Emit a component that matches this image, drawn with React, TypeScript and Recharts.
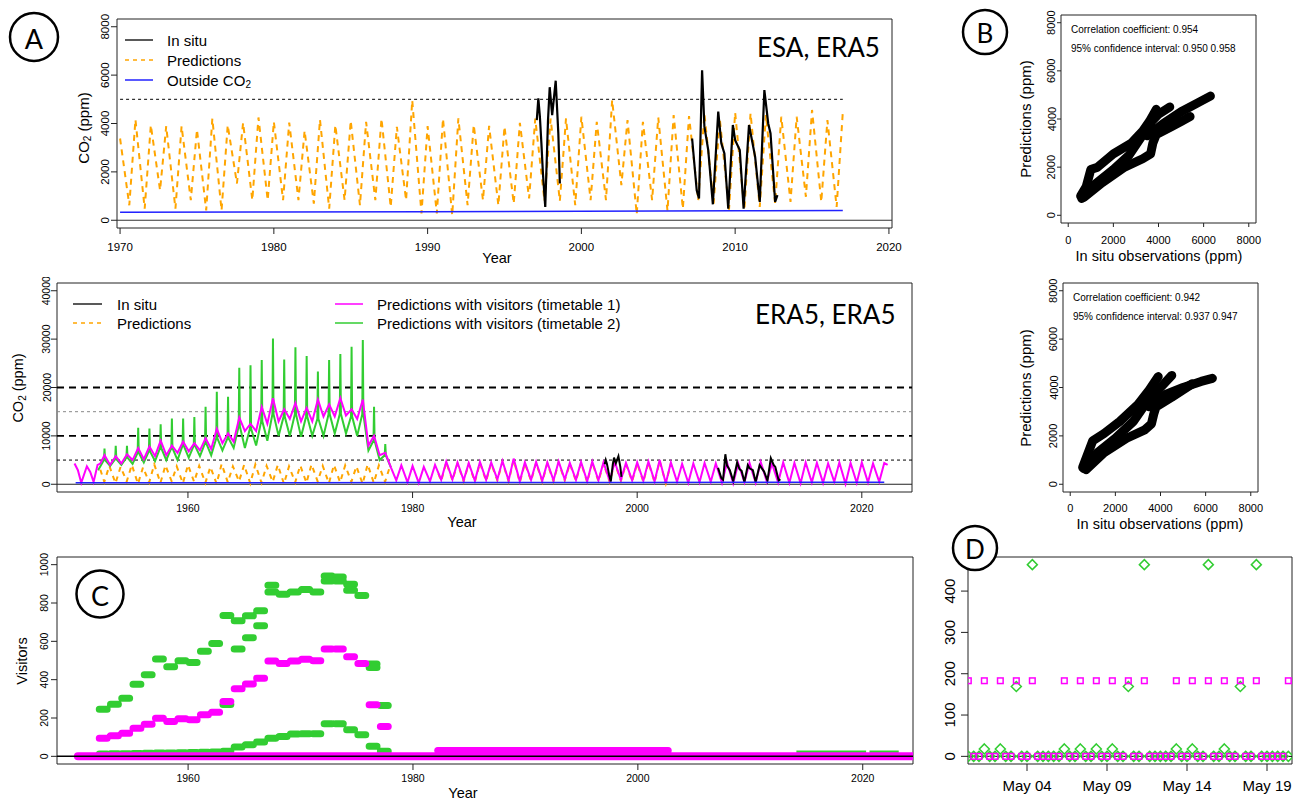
import React from "react";
import { ComposedChart, Line, Scatter, XAxis, YAxis, ReferenceLine, ReferenceArea } from "recharts";

const FONT = '"Liberation Sans", Arial, Helvetica, sans-serif';
const BIG_FONT = 'Lato, "Open Sans", sans-serif';
const ORANGE = "#FFA500";
const MAGENTA = "#FF00FF";
const GREEN = "#32CD32";
const BLUE = "#2222FF";
const BLACK = "#000000";

type Pt = { x: number; y: number | null };
const pairs = (arr: [number, number | null][]): Pt[] => arr.map(([x, y]) => ({ x, y }));

// ---------------- Panel A (ESA, ERA5) ----------------
const predA_start: [number, number] = [1970.0, 3380];
// yearly peaks at 1971..2017
const predA_peaks = [4160, 3930, 3890, 3890, 3750, 4200, 3930, 4030, 4250, 4070, 4040, 3700, 4160, 3930, 4110, 4070, 4200, 3860, 4960, 3890, 4200, 4210, 3940, 3900, 3870, 4030, 4200, 4200, 4210, 4280, 4070, 4970, 4140, 4070, 4250, 4350, 4310, 4400, 4200, 4450, 4420, 4350, 4280, 4280, 4560, 4140, 4460];
// yearly troughs at 1970.6..2016.6
const predA_troughs = [620, 480, 1240, 480, 830, 410, 410, 1520, 830, 830, 830, 830, 690, 480, 830, 620, 830, 550, 830, 280, 280, 210, 620, 830, 620, 690, 900, 800, 800, 620, 830, 830, 1450, 250, 830, 390, 480, 830, 690, 440, 440, 550, 690, 760, 970, 760, 550];

const inSituPts: [number, number | null][] = [
  [1997.1, 4140], [1997.2, 5040], [1997.3, 4300], [1997.4, 3180], [1997.5, 1930], [1997.65, 550], [1997.83, 4140], [1997.94, 5500], [1998.1, 4350], [1998.33, 5770], [1998.5, 3590], [1998.6, 1520],
  [1998.61, null],
  [2007.2, 3380], [2007.5, 1240], [2007.65, 900], [2007.85, 6200], [2008.0, 3870], [2008.25, 2900], [2008.55, 660], [2008.9, 4490], [2009.1, 3180], [2009.3, 2760], [2009.55, 480], [2009.85, 3940], [2010.0, 3310], [2010.3, 2900], [2010.55, 480], [2010.9, 3940], [2011.05, 3450], [2011.3, 2620], [2011.6, 760], [2011.9, 5380], [2012.15, 4000], [2012.3, 3590], [2012.6, 760], [2012.75, 1040],
];

const outsideYears = [1950, 1960, 1970, 1980, 1990, 2000, 2010, 2017, 2022];
const outsidePpm = [311, 317, 326, 339, 354, 370, 390, 406, 418];

// ---------------- Middle panel (ERA5, ERA5) ----------------
const magEarly: [number, number][] = [[1949.9, 4280], [1950.2, 2900], [1950.5, 300], [1951.0, 3720], [1951.3, 2550], [1951.6, 480], [1951.95, 4000], [1952.2, 4280]];
// visitor years 1952..1977 (peaks at Y+0.57)
const magPeak = [6000, 5800, 6200, 7500, 7800, 9000, 8000, 8800, 8500, 9500, 11500, 10500, 13800, 12500, 16000, 17800, 15500, 16800, 15800, 17500, 16500, 17800, 15500, 17500, 10000, 6500];
const magTrough = [4000, 4300, 5000, 5200, 5800, 6000, 6500, 6800, 7000, 7300, 8500, 8800, 11000, 11000, 12500, 13000, 13500, 13000, 13000, 14000, 14000, 14200, 13500, 8000, 6000, 3500];
// natural cycle after visitors: troughs 1978.55..2021.55, peaks 1979..2022
const magNatTrough = [800, 400, 300, 600, 900, 1000, 800, 700, 900, 1000, 800, 600, 900, 700, 800, 1000, 900, 600, 800, 700, 900, 800, 700, 600, 200, 500, 300, 400, 500, 300, 200, 400, 300, 500, 400, 300, 200, 400, 300, 500, 100, 300, 400, 500];
const magNatPeak = [3900, 3800, 3600, 4000, 4700, 4500, 4400, 4600, 4500, 4800, 5300, 4500, 4600, 4500, 4700, 4400, 4600, 4700, 4500, 4600, 4400, 4500, 4700, 5000, 4500, 4200, 4300, 4400, 4300, 4500, 4300, 4400, 4600, 4300, 4500, 4400, 4500, 4400, 4300, 4500, 4400, 4500, 4300, 4400];
const magEnd: [number, number] = [2022.3, 4000];

const greenStart: [number, number] = [1952.0, 2900];
const greenSpike = [7380, 7940, 7940, 11700, 11500, 12400, 13600, 13600, 13900, 16000, 19100, 18100, 24100, 24600, 25700, 30150, 25800, 28300, 26500, 23300, 25700, 26900, 28400, 29800, 16000, 8300];
const greenBase = [5000, 5200, 5500, 6500, 6800, 7500, 7500, 8000, 8000, 8500, 9500, 9500, 12000, 11500, 13000, 14500, 14000, 14500, 14000, 13500, 14500, 14500, 14000, 14500, 9000, 6000];
const greenLow = [3800, 4000, 4200, 4500, 4800, 5000, 5000, 5500, 5800, 6000, 7000, 7500, 7500, 8000, 9000, 10000, 10000, 9800, 10000, 10000, 10500, 10500, 10000, 7000, 5000, 3500];

const orangeMid1Start: [number, number] = [1952.2, 3000];
const orangeMid1Trough = [500, 200, 600, 100, 400, 300, 600, 200, 500, 300, 100, 400, 600, 200, 300, 500, 100, 400, 300, 600, 200, 400, 500, 100, 300, 500];
const orangeMid1Peak = [3800, 3600, 4000, 3500, 4100, 3900, 3700, 4000, 3800, 3600, 4200, 3700, 4000, 4100, 3800, 4000, 3700, 3900, 4100, 3800, 4000, 3900, 3700, 4100, 3900, 3800];
const orangeMid2Start: [number, number] = [1982.3, 2200];
const orangeMid2Trough = [700, 800, 600, 500, 700, 800, 600, 400, 700, 500, 600, 800, 700, 400, 600, 500, 700, 600, 500, 400, 200];
const orangeMid2Peak = [4500, 4300, 4200, 4400, 4300, 4600, 5000, 4300, 4400, 4300, 4500, 4200, 4400, 4500, 4300, 4400, 4200, 4300, 4500, 4800, 4300];

// ---------------- Panel B scatter trajectories ----------------
const bTop: [number, number][][] = [
  [[550, 800], [800, 1200], [1000, 1900], [1300, 2000], [2000, 2550], [2800, 3000], [3300, 3500], [3600, 3900], [3900, 4400]],
  [[600, 700], [1200, 1300], [2000, 1900], [2700, 2500], [3200, 3200], [3700, 3900], [4000, 4200], [4500, 4500]],
  [[700, 750], [1500, 1350], [2500, 2000], [3300, 2350], [3650, 2550], [3750, 3000], [3900, 3350], [4500, 3650], [5000, 3900], [5400, 4100]],
  [[3500, 3300], [4200, 3800], [5000, 4300], [5800, 4700], [6300, 4950]],
];
const bBottom: [number, number][][] = [
  [[550, 700], [1000, 1800], [1500, 2100], [2200, 2600], [3000, 3300], [3500, 3900], [3900, 4450]],
  [[600, 650], [1200, 1300], [2000, 1900], [2800, 2600], [3400, 3400], [4000, 4000], [4500, 4500]],
  [[700, 600], [1500, 1300], [2500, 1900], [3300, 2250], [3600, 2500], [3700, 2900], [3800, 3200], [4500, 3600], [5400, 4150]],
  [[3500, 3200], [4200, 3700], [5000, 4000], [5800, 4250], [6300, 4380]],
];

// ---------------- Panel C visitors (years 1952..1977) ----------------
const cGreenTop = [246, 272, 303, 376, 426, 508, 468, 499, 490, 548, 589, 735, 707, 733, 759, 893, 846, 858, 870, 858, 941, 936, 898, 839, 482, 265];
const cGreenAlt: (number | null)[] = [null, null, null, null, null, null, null, null, null, null, null, 270, 560, 619, 681, 858, null, null, null, null, 915, 915, 866, null, 464, null];
const cGreenLow = [12, 13, 14, 15, 16, 17, 18, 19, 20, 21, 22, 26, 49, 61, 75, 95, 104, 116, 118, 118, 170, 170, 139, 113, 52, 26];
const cMagenta = [95, 107, 121, 147, 168, 199, 182, 196, 191, 217, 230, 286, 352, 378, 407, 497, 485, 497, 506, 499, 560, 560, 520, 485, 269, 156];
const cMag30: [number, number | null][] = [[1982.2, 30], [2002.7, 30]];
const cGreenRecent: [number, number | null][] = [[2014.1, 22], [2020.3, 22], [2020.4, null], [2020.6, 22], [2023.2, 22]];
const cZeroBand: [number, number | null][] = [[1950.2, 0], [2025, 0]];

// ---------------- Panel D (8-hour slots, May) ----------------
const dMagenta = [183, 0, 0, 183, 0, 0, 183, 0, 0, 183, 0, 0, 183, 0, 0, 0, 0, 0, 183, 0, 0, 183, 0, 0, 183, 0, 0, 183, 0, 0, 183, 0, 0, 183, 0, 0, 0, 0, 0, 183, 0, 0, 183, 0, 0, 183, 0, 0, 183, 0, 0, 183, 0, 0, 183, 0, 0, 0, 0, 0, 183];
const dGreen = [0, 0, 0, 18, 0, 0, 18, 0, 0, 169, 0, 0, 464, 0, 0, 0, 0, 0, 18, 0, 0, 18, 0, 0, 18, 0, 0, 18, 0, 0, 169, 0, 0, 464, 0, 0, 0, 0, 0, 18, 0, 0, 18, 0, 0, 464, 0, 0, 18, 0, 0, 169, 0, 0, 464, 0, 0, 0, 0, 0, 0];
const dTickDays = [4, 9, 14, 19];

// ---------------- Build series ----------------
function alternate(start: [number, number], t0: number, troughs: number[], p0: number, peaks: number[]): Pt[] {
  const out: Pt[] = [{ x: start[0], y: start[1] }];
  troughs.forEach((v, i) => {
    out.push({ x: t0 + i, y: v });
    out.push({ x: p0 + i, y: peaks[i] });
  });
  return out;
}
const predA = alternate(predA_start, 1970.6, predA_troughs, 1971, predA_peaks);
const inSitu = pairs(inSituPts);
const outsideAll: Pt[] = outsideYears.map((x, i) => ({ x, y: outsidePpm[i] }));
const outsideA = outsideAll.filter((p) => p.x >= 1970 && p.x <= 2017);

const magenta: Pt[] = [...pairs(magEarly)];
magPeak.forEach((v, i) => {
  magenta.push({ x: 1952.57 + i, y: v });
  magenta.push({ x: 1953.07 + i, y: magTrough[i] });
});
magNatTrough.forEach((v, i) => {
  magenta.push({ x: 1978.55 + i, y: v });
  magenta.push({ x: 1979 + i, y: magNatPeak[i] });
});
magenta.push({ x: magEnd[0], y: magEnd[1] });

const green: Pt[] = [{ x: greenStart[0], y: greenStart[1] }];
greenSpike.forEach((v, i) => {
  const s = 1952.57 + i;
  green.push({ x: s - 0.05, y: greenBase[i] });
  green.push({ x: s, y: v });
  green.push({ x: s + 0.05, y: greenBase[i] });
  green.push({ x: s + 0.5, y: greenLow[i] });
});
const orangeMid1 = alternate(orangeMid1Start, 1952.55, orangeMid1Trough, 1953, orangeMid1Peak);
const orangeMid2 = alternate(orangeMid2Start, 1982.55, orangeMid2Trough, 1983, orangeMid2Peak);

function steps(vals: (number | null)[], y0: number): Pt[] {
  const out: Pt[] = [];
  vals.forEach((v, i) => {
    if (v === null) return;
    out.push({ x: y0 + i + 0.1, y: v });
    out.push({ x: y0 + i + 0.8, y: v });
    out.push({ x: y0 + i + 0.81, y: null });
  });
  return out;
}

const dMagPts: Pt[] = dMagenta.map((v, k) => ({ x: (k + 1) / 3, y: v }));
const dGreenPts: Pt[] = dGreen.map((v, k) => ({ x: (k + 1) / 3, y: v }));

// ---------------- Panel helper ----------------
const L = 40, T = 6, R = 22, BOT = 40;

type PanelProps = {
  box: number[];
  xDomain: [number, number];
  yDomain: [number, number];
  xTicks: number[];
  yTicks: number[];
  xFmt?: (v: number) => string;
  font: number;
  xDy: number;
  yDx: number;
  tick: number;
  children?: React.ReactNode;
};

function Panel(props: PanelProps) {
  const { box, xDomain, yDomain, xTicks, yTicks, xFmt, font, xDy, yDx, tick, children } = props;
  const [bl, bt, br, bb] = box;
  const w = br - bl;
  const h = bb - bt;
  const renderX = (p: any) => (
    <text x={p.x} y={T + h + xDy} textAnchor="middle" dominantBaseline="central" fontSize={font} fontFamily={FONT} fill="#000">
      {xFmt ? xFmt(p.payload.value) : String(p.payload.value)}
    </text>
  );
  const renderY = (p: any) => {
    const xc = L - yDx;
    return (
      <text x={xc} y={p.y} transform={`rotate(-90 ${xc} ${p.y})`} textAnchor="middle" dominantBaseline="central" fontSize={font} fontFamily={FONT} fill="#000">
        {String(p.payload.value)}
      </text>
    );
  };
  return (
    <div style={{ position: "absolute", left: bl - L, top: bt - T }}>
      <ComposedChart width={L + w + R} height={T + h + BOT} margin={{ top: T, right: R, bottom: 0, left: 0 }}>
        <XAxis type="number" dataKey="x" domain={xDomain} allowDataOverflow ticks={xTicks} interval={0} tick={renderX} tickSize={tick} tickMargin={0} tickLine={{ stroke: "#222" }} axisLine={false} height={BOT} />
        <YAxis type="number" domain={yDomain} allowDataOverflow ticks={yTicks} interval={0} tick={renderY} tickSize={tick} tickMargin={0} tickLine={{ stroke: "#222" }} axisLine={false} width={L} />
        {children}
        <ReferenceArea x1={xDomain[0]} x2={xDomain[1]} y1={yDomain[0]} y2={yDomain[1]} fill="none" fillOpacity={0} stroke="#222" strokeWidth={1} ifOverflow="visible" />
      </ComposedChart>
    </div>
  );
}

const Sq = (p: any) => <rect x={p.cx - 2.8} y={p.cy - 2.8} width={5.6} height={5.6} fill="none" stroke={MAGENTA} strokeWidth={1.5} />;
const Dm = (p: any) => (
  <path d={`M${p.cx},${p.cy - 5} L${p.cx + 5},${p.cy} L${p.cx},${p.cy + 5} L${p.cx - 5},${p.cy} Z`} fill="none" stroke={GREEN} strokeWidth={1.5} />
);

const yr10 = [1960, 1980, 2000, 2020];

export default function App() {
  return (
    <div style={{ position: "absolute", left: 0, top: 0, width: 1307, height: 800, background: "#fff", overflow: "hidden" }}>
      {/* Panel A */}
      <Panel box={[117, 19, 892, 228]} xDomain={[1969.8, 2020.2]} yDomain={[-320, 8320]} xTicks={[1970, 1980, 1990, 2000, 2010, 2020]} yTicks={[0, 2000, 4000, 6000, 8000]} font={11.5} xDy={19} yDx={12} tick={6}>
        <ReferenceLine y={0} stroke="#333" strokeWidth={1.2} ifOverflow="visible" />
        <ReferenceLine segment={[{ x: 1970, y: 5000 }, { x: 2017, y: 5000 }]} stroke="#000" strokeWidth={1} strokeDasharray="3 3" />
        <Line data={predA} dataKey="y" stroke={ORANGE} strokeWidth={2} strokeDasharray="6 5" dot={false} activeDot={false} isAnimationActive={false} type="linear" />
        <Line data={outsideA} dataKey="y" stroke={BLUE} strokeWidth={1.5} dot={false} activeDot={false} isAnimationActive={false} type="linear" />
        <Line data={inSitu} dataKey="y" stroke={BLACK} strokeWidth={2.2} dot={false} activeDot={false} isAnimationActive={false} connectNulls={false} type="linear" />
      </Panel>

      {/* Middle panel */}
      <Panel box={[57, 283, 912, 492]} xDomain={[1948.34, 2024.47]} yDomain={[-1600, 41600]} xTicks={yr10} yTicks={[0, 10000, 20000, 30000, 40000]} font={10.5} xDy={16} yDx={10.5} tick={6}>
        <ReferenceLine y={20000} stroke="#000" strokeWidth={1.8} strokeDasharray="7 5" />
        <ReferenceLine y={15000} stroke="#888" strokeWidth={1} strokeDasharray="3 3" />
        <ReferenceLine y={10000} stroke="#000" strokeWidth={1.8} strokeDasharray="7 5" />
        <ReferenceLine y={5000} stroke="#000" strokeWidth={1} strokeDasharray="3 3" />
        <ReferenceLine y={0} stroke="#222" strokeWidth={1.2} />
        <Line data={orangeMid1} dataKey="y" stroke={ORANGE} strokeWidth={2} strokeDasharray="5 5" dot={false} activeDot={false} isAnimationActive={false} type="linear" />
        <Line data={orangeMid2} dataKey="y" stroke={ORANGE} strokeWidth={2} strokeDasharray="5 5" dot={false} activeDot={false} isAnimationActive={false} type="linear" />
        <Line data={green} dataKey="y" stroke={GREEN} strokeWidth={2} dot={false} activeDot={false} isAnimationActive={false} type="linear" />
        <Line data={magenta} dataKey="y" stroke={MAGENTA} strokeWidth={2} dot={false} activeDot={false} isAnimationActive={false} type="linear" />
        <Line data={inSitu} dataKey="y" stroke={BLACK} strokeWidth={2} dot={false} activeDot={false} isAnimationActive={false} connectNulls={false} type="linear" />
        <Line data={outsideAll} dataKey="y" stroke={BLUE} strokeWidth={1.5} dot={false} activeDot={false} isAnimationActive={false} type="linear" />
      </Panel>

      {/* Panel B top */}
      <Panel box={[1061, 15, 1256, 223]} xDomain={[-320, 8320]} yDomain={[-320, 8320]} xTicks={[0, 2000, 4000, 6000, 8000]} yTicks={[0, 2000, 4000, 6000, 8000]} font={11} xDy={17} yDx={9.5} tick={4}>
        {bTop.map((path, i) => (
          <Line key={"bt" + i} data={pairs(path)} dataKey="y" stroke={BLACK} strokeWidth={9} strokeLinecap="round" strokeLinejoin="round" dot={false} activeDot={false} isAnimationActive={false} type="linear" />
        ))}
      </Panel>

      {/* Panel B bottom */}
      <Panel box={[1063, 283, 1258, 492]} xDomain={[-320, 8320]} yDomain={[-320, 8320]} xTicks={[0, 2000, 4000, 6000, 8000]} yTicks={[0, 2000, 4000, 6000, 8000]} font={11} xDy={16} yDx={9.5} tick={4}>
        {bBottom.map((path, i) => (
          <Line key={"bb" + i} data={pairs(path)} dataKey="y" stroke={BLACK} strokeWidth={9} strokeLinecap="round" strokeLinejoin="round" dot={false} activeDot={false} isAnimationActive={false} type="linear" />
        ))}
      </Panel>

      {/* Panel C */}
      <Panel box={[57, 557, 913, 764]} xDomain={[1948.34, 2024.47]} yDomain={[-40, 1040]} xTicks={yr10} yTicks={[0, 200, 400, 600, 800, 1000]} font={10.5} xDy={14} yDx={13} tick={6}>
        <Line data={steps(cGreenLow, 1952)} dataKey="y" stroke={GREEN} strokeWidth={7} strokeLinecap="round" dot={false} activeDot={false} isAnimationActive={false} connectNulls={false} type="linear" />
        <Line data={steps(cGreenTop, 1952)} dataKey="y" stroke={GREEN} strokeWidth={7} strokeLinecap="round" dot={false} activeDot={false} isAnimationActive={false} connectNulls={false} type="linear" />
        <Line data={steps(cGreenAlt, 1952)} dataKey="y" stroke={GREEN} strokeWidth={7} strokeLinecap="round" dot={false} activeDot={false} isAnimationActive={false} connectNulls={false} type="linear" />
        <Line data={pairs(cGreenRecent)} dataKey="y" stroke={GREEN} strokeWidth={3} dot={false} activeDot={false} isAnimationActive={false} connectNulls={false} type="linear" />
        <Line data={pairs(cZeroBand)} dataKey="y" stroke={MAGENTA} strokeWidth={8} strokeLinecap="round" dot={false} activeDot={false} isAnimationActive={false} type="linear" />
        <Line data={pairs(cMag30)} dataKey="y" stroke={MAGENTA} strokeWidth={7} strokeLinecap="round" dot={false} activeDot={false} isAnimationActive={false} type="linear" />
        <Line data={steps(cMagenta, 1952)} dataKey="y" stroke={MAGENTA} strokeWidth={7} strokeLinecap="round" dot={false} activeDot={false} isAnimationActive={false} connectNulls={false} type="linear" />
        <ReferenceLine y={0} stroke="#000" strokeWidth={1.5} />
      </Panel>

      {/* Panel D */}
      <Panel box={[968, 557, 1292, 764]} xDomain={[0.3125, 20.5625]} yDomain={[-18.5, 482.5]} xTicks={dTickDays} yTicks={[0, 100, 200, 300, 400]} xFmt={(v) => "May " + String(v).padStart(2, "0")} font={15} xDy={21} yDx={18} tick={7}>
        <ReferenceLine y={0} stroke="#000" strokeWidth={1} />
        <Scatter data={dGreenPts} dataKey="y" shape={Dm} isAnimationActive={false} />
        <Scatter data={dMagPts} dataKey="y" shape={Sq} isAnimationActive={false} />
      </Panel>

      {/* Annotations */}
      <svg width={1307} height={800} style={{ position: "absolute", left: 0, top: 0, pointerEvents: "none" }}>
        {/* circled letters */}
        <circle cx={34} cy={37} r={24} fill="none" stroke="#000" strokeWidth={2.5} />
        <text x={34} y={38} textAnchor="middle" dominantBaseline="central" fontSize={27} fontFamily={BIG_FONT}>A</text>
        <circle cx={985} cy={32} r={22} fill="none" stroke="#000" strokeWidth={2.5} />
        <text x={985} y={33} textAnchor="middle" dominantBaseline="central" fontSize={26} fontFamily={BIG_FONT}>B</text>
        <circle cx={100} cy={594} r={23.5} fill="none" stroke="#000" strokeWidth={2.5} />
        <text x={100} y={595} textAnchor="middle" dominantBaseline="central" fontSize={27} fontFamily={BIG_FONT}>C</text>
        <circle cx={975} cy={548} r={22} fill="#fff" stroke="#000" strokeWidth={2.5} />
        <text x={975} y={549} textAnchor="middle" dominantBaseline="central" fontSize={26} fontFamily={BIG_FONT}>D</text>

        {/* Panel A legend + title */}
        <line x1={125} y1={40} x2={153} y2={40} stroke="#222" strokeWidth={1.5} />
        <line x1={125} y1={60} x2={153} y2={60} stroke={ORANGE} strokeWidth={1.5} strokeDasharray="4 4" />
        <line x1={125} y1={80} x2={153} y2={80} stroke={BLUE} strokeWidth={1.5} />
        <text x={167} y={40} dominantBaseline="central" fontSize={15} fontFamily={FONT}>In situ</text>
        <text x={167} y={60} dominantBaseline="central" fontSize={15} fontFamily={FONT}>Predictions</text>
        <text x={167} y={80} dominantBaseline="central" fontSize={15} fontFamily={FONT}>
          Outside CO<tspan dy={4} fontSize={10}>2</tspan>
        </text>
        <text x={757} y={47} dominantBaseline="central" fontSize={26} fontFamily={BIG_FONT}>ESA, ERA5</text>
        <text x={83} y={128} transform="rotate(-90 83 128)" textAnchor="middle" dominantBaseline="central" fontSize={15} fontFamily={FONT}>
          CO<tspan dy={4} fontSize={10}>2</tspan><tspan dy={-4}> (ppm)</tspan>
        </text>
        <text x={497} y={258} textAnchor="middle" dominantBaseline="central" fontSize={14.5} fontFamily={FONT}>Year</text>

        {/* Middle legend + title */}
        <line x1={73} y1={304} x2={102} y2={304} stroke="#222" strokeWidth={1.5} />
        <line x1={73} y1={323} x2={102} y2={323} stroke={ORANGE} strokeWidth={1.5} strokeDasharray="4 4" />
        <text x={117} y={304} dominantBaseline="central" fontSize={15} fontFamily={FONT}>In situ</text>
        <text x={117} y={323} dominantBaseline="central" fontSize={15} fontFamily={FONT}>Predictions</text>
        <line x1={335} y1={304} x2={363} y2={304} stroke={MAGENTA} strokeWidth={1.5} />
        <line x1={335} y1={323} x2={363} y2={323} stroke={GREEN} strokeWidth={1.5} />
        <text x={377} y={304} dominantBaseline="central" fontSize={15} fontFamily={FONT}>Predictions with visitors (timetable 1)</text>
        <text x={377} y={323} dominantBaseline="central" fontSize={15} fontFamily={FONT}>Predictions with visitors (timetable 2)</text>
        <text x={755} y={314} dominantBaseline="central" fontSize={26} fontFamily={BIG_FONT}>ERA5, ERA5</text>
        <text x={18} y={388} transform="rotate(-90 18 388)" textAnchor="middle" dominantBaseline="central" fontSize={14.5} fontFamily={FONT}>
          CO<tspan dy={4} fontSize={10}>2</tspan><tspan dy={-4}> (ppm)</tspan>
        </text>
        <text x={462} y={522} textAnchor="middle" dominantBaseline="central" fontSize={14.5} fontFamily={FONT}>Year</text>

        {/* Panel C labels */}
        <text x={22} y={661} transform="rotate(-90 22 661)" textAnchor="middle" dominantBaseline="central" fontSize={14.5} fontFamily={FONT}>Visitors</text>
        <text x={463} y={793} textAnchor="middle" dominantBaseline="central" fontSize={14.5} fontFamily={FONT}>Year</text>

        {/* Panel B labels */}
        <text x={1025} y={119} transform="rotate(-90 1025 119)" textAnchor="middle" dominantBaseline="central" fontSize={15} fontFamily={FONT}>Predictions (ppm)</text>
        <text x={1159} y={256} textAnchor="middle" dominantBaseline="central" fontSize={14.5} fontFamily={FONT}>In situ observations (ppm)</text>
        <text x={1071} y={29} dominantBaseline="central" fontSize={10} fontFamily={FONT}>Correlation coefficient: 0.954</text>
        <text x={1071} y={48} dominantBaseline="central" fontSize={10} fontFamily={FONT}>95% confidence interval: 0.950 0.958</text>
        <text x={1025} y={388} transform="rotate(-90 1025 388)" textAnchor="middle" dominantBaseline="central" fontSize={15} fontFamily={FONT}>Predictions (ppm)</text>
        <text x={1160} y={524} textAnchor="middle" dominantBaseline="central" fontSize={14.5} fontFamily={FONT}>In situ observations (ppm)</text>
        <text x={1073} y={297} dominantBaseline="central" fontSize={10} fontFamily={FONT}>Correlation coefficient: 0.942</text>
        <text x={1073} y={316} dominantBaseline="central" fontSize={10} fontFamily={FONT}>95% confidence interval: 0.937 0.947</text>
      </svg>
    </div>
  );
}
